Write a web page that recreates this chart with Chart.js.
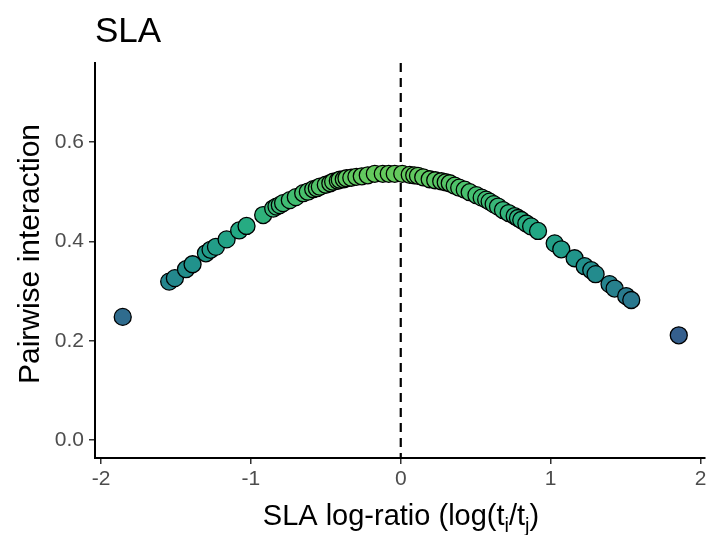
<!DOCTYPE html>
<html>
<head>
<meta charset="utf-8">
<script src="https://cdn.jsdelivr.net/npm/chart.js@4.4.1/dist/chart.umd.min.js"></script>
<style>
  html, body { margin: 0; padding: 0; background: #fff; }
  canvas { display: block; }
</style>
</head>
<body>
<canvas id="slaChart" width="708" height="535"></canvas>
<script>
// log-ratio values and pairwise interaction
const logRatio = [
  -1.855, -1.545, -1.507, -1.433, -1.389, -1.300, -1.269, -1.233, -1.162, -1.078,
  -1.029, -0.918, -0.851, -0.829, -0.807, -0.785, -0.740, -0.700, -0.651, -0.620,
  -0.584, -0.560, -0.540, -0.500, -0.470, -0.451, -0.420, -0.407, -0.380, -0.362,
  -0.330, -0.296, -0.260, -0.220, -0.173, -0.120, -0.080, -0.040, 0.010, 0.060,
  0.090, 0.115, 0.150, 0.193, 0.230, 0.270, 0.300, 0.327, 0.360, 0.390,
  0.427, 0.460, 0.505, 0.540, 0.570, 0.593, 0.620, 0.649, 0.682, 0.720,
  0.760, 0.782, 0.804, 0.838, 0.870, 0.916, 1.027, 1.071, 1.160, 1.227,
  1.271, 1.300, 1.393, 1.427, 1.504, 1.538, 1.855,
];
const interaction = [
  0.248, 0.319, 0.326, 0.344, 0.354, 0.376, 0.383, 0.389, 0.404, 0.422,
  0.431, 0.453, 0.466, 0.470, 0.473, 0.477, 0.483, 0.489, 0.497, 0.500,
  0.505, 0.507, 0.510, 0.514, 0.517, 0.520, 0.522, 0.524, 0.525, 0.527,
  0.528, 0.530, 0.531, 0.533, 0.536, 0.536, 0.536, 0.536, 0.536, 0.534,
  0.533, 0.532, 0.529, 0.525, 0.523, 0.521, 0.519, 0.517, 0.512, 0.508,
  0.504, 0.499, 0.493, 0.488, 0.484, 0.480, 0.475, 0.470, 0.463, 0.457,
  0.451, 0.447, 0.443, 0.436, 0.430, 0.421, 0.396, 0.384, 0.366, 0.350,
  0.342, 0.334, 0.314, 0.305, 0.290, 0.282, 0.211,
];
const xTicks = [-2, -1, 0, 1, 2];
const yTicks = [0, 0.2, 0.4, 0.6];

const FONT = '"Liberation Sans", Arial, sans-serif';

const viridis = ["#440154", "#482475", "#414487", "#355f8d", "#2a788e", "#21918c",
  "#22a884", "#44bf70", "#7ad151", "#bddf26", "#fde725"];

function hexToRgb(h) {
  return [1, 3, 5].map((i) => parseInt(h.slice(i, i + 2), 16));
}

function viridisAt(t) {
  t = Math.max(0, Math.min(1, t));
  const pos = t * (viridis.length - 1);
  const i = Math.min(Math.floor(pos), viridis.length - 2);
  const f = pos - i;
  const a = hexToRgb(viridis[i]);
  const b = hexToRgb(viridis[i + 1]);
  const c = a.map((v, k) => Math.round(v + (b[k] - v) * f));
  return `rgb(${c[0]},${c[1]},${c[2]})`;
}

const yLo = Math.min(...interaction);
const yHi = Math.max(...interaction);
function pointColor(y) {
  return viridisAt(0.3 + ((y - yLo) / (yHi - yLo)) * 0.46);
}

const decorations = {
  id: "decorations",
  beforeDatasetsDraw(chart) {
    const { ctx, chartArea, scales } = chart;
    const x0 = scales.x.getPixelForValue(0);
    ctx.save();
    ctx.strokeStyle = "#000";
    ctx.lineWidth = 2.2;
    ctx.setLineDash([9, 6]);
    ctx.beginPath();
    ctx.moveTo(x0, chartArea.top);
    ctx.lineTo(x0, chartArea.bottom);
    ctx.stroke();
    ctx.restore();
  },
  afterDraw(chart) {
    const { ctx } = chart;
    ctx.save();
    ctx.fillStyle = "#000";

    // title
    ctx.font = `35px ${FONT}`;
    ctx.textAlign = "left";
    ctx.textBaseline = "alphabetic";
    ctx.fillText("SLA", 95, 42);

    // y axis title
    ctx.font = `30px ${FONT}`;
    ctx.textAlign = "center";
    ctx.textBaseline = "middle";
    ctx.translate(31, 254);
    ctx.rotate(-Math.PI / 2);
    ctx.fillText("Pairwise interaction", 0, 0);
    ctx.setTransform(1, 0, 0, 1, 0, 0);

    // x axis title with subscripts
    const big = `29px ${FONT}`;
    const small = `20px ${FONT}`;
    const parts = [
      ["SLA log-ratio (log(t", big, 0],
      ["i", small, 7],
      ["/t", big, 0],
      ["j", small, 7],
      [")", big, 0],
    ];
    let total = 0;
    for (const [s, f] of parts) {
      ctx.font = f;
      total += ctx.measureText(s).width;
    }
    let x = 401 - total / 2;
    const base = 525;
    ctx.textAlign = "left";
    ctx.textBaseline = "alphabetic";
    for (const [s, f, dy] of parts) {
      ctx.font = f;
      ctx.fillText(s, x, base + dy);
      x += ctx.measureText(s).width;
    }
    ctx.restore();
  },
};

function axisCommon() {
  return {
    grid: { display: true, drawOnChartArea: false, drawTicks: true, tickLength: 6, color: "#333", lineWidth: 1.5 },
    border: { display: true, color: "#000", width: 2 },
    ticks: { color: "#4d4d4d", font: { family: FONT, size: 21 }, padding: 3 },
  };
}

const xAxis = axisCommon();
const yAxis = axisCommon();

new Chart(document.getElementById("slaChart").getContext("2d"), {
  type: "scatter",
  data: {
    datasets: [
      {
        data: logRatio.map((x, i) => ({ x, y: interaction[i] })),
        backgroundColor: (c) => (c.raw ? pointColor(c.raw.y) : "#000"),
        borderColor: "#000",
        borderWidth: 1.3,
        pointRadius: 8.5,
      },
    ],
  },
  options: {
    responsive: false,
    animation: false,
    layout: { autoPadding: false, padding: { top: 63, left: 0, right: 3, bottom: 0 } },
    plugins: { legend: { display: false }, tooltip: { enabled: false } },
    scales: {
      x: {
        ...xAxis,
        type: "linear",
        min: -2.04,
        max: 2.03,
        afterBuildTicks: (s) => { s.ticks = xTicks.map((v) => ({ value: v })); },
        afterFit: (s) => { s.height = 77; s.paddingLeft = 0; s.paddingRight = 0; },
        ticks: { ...xAxis.ticks, callback: (v) => String(v) },
      },
      y: {
        ...yAxis,
        type: "linear",
        min: -0.036,
        max: 0.759,
        afterBuildTicks: (s) => { s.ticks = yTicks.map((v) => ({ value: v })); },
        afterFit: (s) => { s.width = 95; s.paddingTop = 0; s.paddingBottom = 0; },
        ticks: { ...yAxis.ticks, padding: 5, callback: (v) => Number(v).toFixed(1) },
      },
    },
  },
  plugins: [decorations],
});
</script>
</body>
</html>
